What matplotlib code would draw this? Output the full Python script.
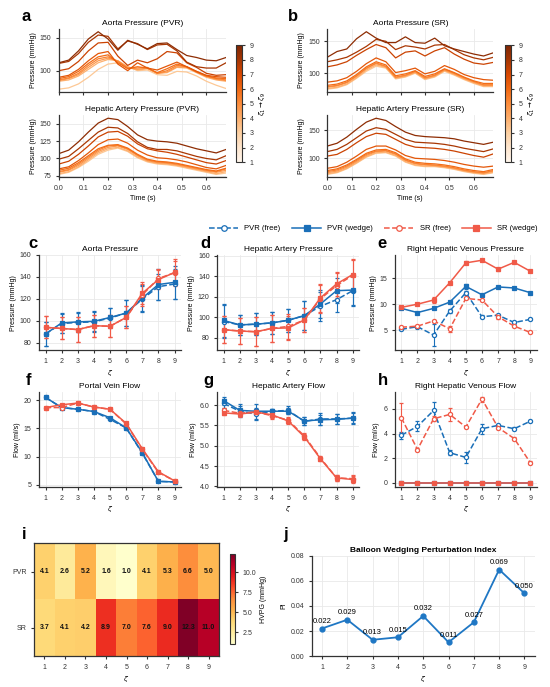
import numpy as np
import matplotlib
matplotlib.use("Agg")
import matplotlib.pyplot as plt
from matplotlib.cm import ScalarMappable
from matplotlib.colors import Normalize
from matplotlib.lines import Line2D

plt.rcParams['font.family'] = ['Liberation Sans', 'DejaVu Sans']
plt.rcParams['font.size'] = 5.5
plt.rcParams['axes.linewidth'] = 0.9
plt.rcParams['axes.edgecolor'] = '#333333'
plt.rcParams['xtick.labelsize'] = 5
plt.rcParams['ytick.labelsize'] = 5
plt.rcParams['xtick.major.size'] = 2
plt.rcParams['ytick.major.size'] = 2
plt.rcParams['xtick.major.width'] = 0.8
plt.rcParams['ytick.major.width'] = 0.8
plt.rcParams['xtick.color'] = '#333333'
plt.rcParams['ytick.color'] = '#333333'
plt.rcParams['axes.labelsize'] = 5
plt.rcParams['axes.titlesize'] = 6

# ---- waveforms (panels a, b) ----
time = [0.00, 0.04, 0.08, 0.12, 0.16, 0.20, 0.24, 0.28, 0.32, 0.36,
        0.40, 0.44, 0.48, 0.52, 0.56, 0.60, 0.64, 0.68]

# zeta 1 .. 9
aorta_pvr = [
    [72, 74, 80, 90, 102, 110, 112, 106, 100, 101, 94, 93, 99, 98, 92, 84, 78, 73],
    [84, 86, 92, 102, 112, 117, 115, 106, 101, 103, 96, 97, 105, 104, 97, 90, 86, 84],
    [85, 88, 94, 105, 115, 119, 115, 105, 102, 104, 96, 98, 106, 105, 98, 91, 87, 85],
    [86, 89, 96, 108, 118, 121, 114, 104, 104, 105, 96, 100, 108, 106, 99, 92, 88, 86],
    [88, 91, 99, 111, 121, 124, 112, 103, 106, 104, 97, 103, 110, 106, 98, 92, 89, 88],
    [90, 93, 102, 115, 126, 129, 110, 100, 112, 104, 101, 107, 113, 106, 99, 93, 91, 90],
    [100, 103, 114, 130, 142, 143, 122, 108, 116, 112, 118, 129, 127, 112, 105, 96, 93, 94],
    [111, 114, 126, 143, 154, 152, 133, 145, 141, 132, 139, 140, 130, 113, 106, 104, 104, 112],
    [112, 116, 130, 148, 159, 148, 131, 146, 140, 133, 141, 142, 132, 123, 120, 116, 115, 120],
]
hepatic_pvr = [
    [77, 80, 87, 96, 106, 112, 115, 110, 101, 95, 92, 91, 89, 86, 83, 80, 77, 79],
    [78, 81, 88, 98, 108, 114, 116, 111, 102, 96, 93, 92, 90, 87, 84, 81, 78, 81],
    [80, 83, 90, 100, 110, 116, 118, 113, 104, 97, 94, 93, 91, 88, 85, 82, 80, 83],
    [81, 84, 92, 102, 112, 118, 119, 114, 105, 98, 95, 94, 92, 89, 86, 83, 81, 85],
    [83, 86, 94, 104, 114, 119, 120, 115, 106, 99, 96, 95, 93, 90, 87, 84, 82, 86],
    [85, 88, 97, 108, 120, 127, 128, 122, 112, 105, 101, 100, 98, 95, 91, 87, 85, 90],
    [92, 96, 106, 118, 131, 138, 139, 132, 121, 114, 111, 109, 106, 102, 98, 94, 92, 97],
    [99, 103, 114, 126, 138, 145, 144, 136, 124, 116, 113, 113, 111, 107, 103, 100, 98, 104],
    [107, 112, 124, 138, 151, 158, 156, 146, 134, 127, 125, 124, 122, 118, 114, 111, 108, 113],
]
aorta_sr = [
    [75, 77, 82, 92, 103, 111, 108, 91, 94, 100, 90, 94, 103, 97, 90, 84, 79, 79],
    [76, 78, 83, 93, 105, 113, 109, 92, 95, 101, 91, 95, 104, 98, 91, 85, 80, 80],
    [78, 80, 85, 95, 107, 115, 110, 93, 96, 102, 92, 96, 105, 99, 92, 86, 81, 81],
    [79, 81, 86, 96, 108, 116, 111, 94, 97, 103, 93, 97, 106, 100, 93, 87, 82, 82],
    [81, 83, 88, 98, 110, 118, 113, 96, 99, 104, 95, 99, 107, 101, 94, 88, 84, 84],
    [86, 88, 93, 103, 115, 124, 118, 101, 104, 108, 99, 103, 112, 106, 98, 93, 90, 89],
    [110, 113, 118, 128, 137, 145, 140, 124, 133, 135, 127, 135, 140, 130, 122, 116, 114, 117],
    [118, 121, 125, 133, 142, 153, 150, 137, 143, 141, 138, 144, 145, 137, 129, 124, 121, 125],
    [125, 134, 138, 154, 165, 155, 148, 148, 157, 148, 147, 155, 143, 138, 134, 130, 127, 132],
]
hepatic_sr = [
    [71, 74, 81, 91, 102, 109, 110, 104, 93, 87, 85, 85, 83, 80, 76, 73, 71, 74],
    [72, 75, 82, 92, 103, 110, 111, 105, 94, 88, 86, 86, 84, 81, 77, 74, 72, 75],
    [74, 77, 84, 94, 105, 112, 113, 107, 96, 90, 88, 87, 85, 82, 78, 75, 73, 77],
    [76, 79, 86, 96, 107, 113, 114, 108, 97, 91, 89, 88, 86, 83, 79, 76, 74, 78],
    [78, 81, 88, 98, 109, 115, 116, 110, 99, 93, 91, 90, 88, 85, 81, 78, 76, 80],
    [82, 85, 93, 104, 116, 122, 122, 115, 105, 100, 99, 98, 96, 93, 89, 86, 84, 86],
    [104, 107, 116, 128, 139, 145, 143, 134, 125, 120, 119, 118, 116, 113, 109, 105, 102, 108],
    [112, 116, 125, 137, 149, 155, 152, 143, 134, 129, 128, 127, 125, 122, 118, 115, 112, 117],
    [122, 127, 138, 152, 165, 172, 168, 157, 147, 141, 139, 138, 137, 135, 131, 128, 125, 129],
]

# ---- per-zeta comparison (panels c-h) ----
zeta = [1, 2, 3, 4, 5, 6, 7, 8, 9]
series_names = ['PVR (free)', 'PVR (wedge)', 'SR (free)', 'SR (wedge)']

aorta_p = [
    [88, 97.5, 98.5, 99, 102.5, 107, 119.7, 131, 133.5],
    [88, 98, 99, 99.5, 103, 107, 120.6, 133, 135],
    [94, 93, 92, 95.5, 95, 103, 123.5, 138.5, 143.7],
    [94, 93, 92, 95.5, 95, 103, 125, 137.5, 144],
]
aorta_p_err = [
    [11, 9, 9, 9, 9, 12, 12, 12, 14],
    [11, 9, 9, 9, 9, 12, 12, 14, 15],
    [10, 10, 11, 10, 10, 10, 10, 9, 11],
    [10, 10, 11, 10, 10, 10, 10, 9, 12],
]
hepatic_p = [
    [95.8, 92.5, 93.2, 94.5, 97, 101.6, 110.7, 117.2, 126],
    [96.8, 92.5, 93.2, 94.5, 97, 101.6, 113, 126, 126.6],
    [87.8, 86.5, 85.8, 89.1, 91, 97.3, 118, 131, 141],
    [87.8, 86.5, 85.8, 89.1, 89.5, 97.3, 119, 132.6, 141.8],
]
hepatic_p_err = [
    [16, 10, 11, 11, 11, 14, 14, 12, 15],
    [16, 10, 11, 11, 11, 14, 14, 12, 15],
    [13, 13, 14, 13, 12, 12, 14, 12, 15],
    [13, 13, 14, 13, 12, 12, 14, 12, 15],
]
rhv_p = [
    [5.2, 5.7, 4.1, 8.7, 12.2, 7.6, 7.9, 6.5, 7.1],
    [9.2, 8.4, 9.2, 10.4, 13.4, 11.8, 13.3, 13.1, 12.2],
    [5.6, 5.8, 6.8, 5.3, 11.1, 10.8, 7.6, 5.8, 4.6],
    [9.4, 10.0, 10.8, 14.1, 17.9, 18.4, 16.7, 18.0, 16.3],
]
rhv_p_err = [
    [0.2, 0.2, 2.1, 0.3, 0.4, 0.3, 0.2, 0.2, 0.2],
    [0.2, 0.2, 0.2, 0.2, 0.4, 0.2, 0.2, 0.2, 0.2],
    [0.2, 0.2, 0.2, 0.6, 0.2, 0.2, 0.4, 0.2, 0.2],
    [0.2, 0.2, 0.5, 0.2, 0.3, 0.2, 0.3, 0.2, 0.2],
]
portal_q = [
    [20.5, 18.7, 18.4, 18.0, 16.6, 15.1, 10.6, 5.6, 5.5],
    [20.5, 18.7, 18.4, 18.0, 16.9, 15.1, 10.7, 5.6, 5.5],
    [18.7, 18.7, 19.5, 18.8, 18.4, 15.8, 11.3, 7.2, 5.7],
    [18.7, 19.2, 19.5, 18.8, 18.4, 15.9, 11.4, 7.3, 5.7],
]
portal_q_err = [
    [0.15] * 9, [0.15] * 9, [0.15] * 9, [0.15] * 9,
]
hepatic_q = [
    [6.04, 5.85, 5.78, 5.85, 5.87, 5.60, 5.66, 5.66, 5.68],
    [6.11, 5.87, 5.85, 5.85, 5.85, 5.61, 5.64, 5.65, 5.68],
    [5.87, 5.80, 5.83, 5.74, 5.63, 5.24, 4.70, 4.21, 4.19],
    [5.81, 5.78, 5.83, 5.76, 5.61, 5.22, 4.68, 4.21, 4.17],
]
hepatic_q_err = [
    [0.10, 0.12, 0.15, 0.06, 0.10, 0.10, 0.15, 0.12, 0.12],
    [0.10, 0.15, 0.18, 0.06, 0.08, 0.10, 0.12, 0.12, 0.15],
    [0.05, 0.06, 0.06, 0.07, 0.07, 0.07, 0.05, 0.08, 0.08],
    [0.05, 0.06, 0.06, 0.07, 0.07, 0.07, 0.05, 0.08, 0.08],
]
rhv_q = [
    [3.86, 4.58, 5.87, 2.44, 2.06, 4.39, 4.66, 4.39, 5.0],
    [0, 0, 0, 0, 0, 0, 0, 0, 0],
    [5.28, 2.70, 5.20, 5.55, 4.53, 6.80, 4.48, 3.59, 1.63],
    [0, 0, 0, 0, 0, 0, 0, 0, 0],
]
rhv_q_err = [
    [0.3, 0.4, 0.7, 0.2, 0.45, 0.4, 0.1, 0.1, 0.1],
    [0] * 9,
    [1.2, 0.15, 0.2, 0.55, 0.1, 0.2, 0.1, 0.1, 0.1],
    [0] * 9,
]

# ---- HVPG heatmap (panel i) and perturbation index (panel j) ----
hvpg_rows = ['PVR', 'SR']
hvpg = [
    [4.1, 2.6, 5.2, 1.6, 1.0, 4.1, 5.3, 6.6, 5.0],
    [3.7, 4.1, 4.2, 8.9, 7.0, 7.6, 9.0, 12.3, 11.0],
]
pi_vals = [0.022, 0.029, 0.013, 0.015, 0.032, 0.011, 0.027, 0.069, 0.050]

BLUE = '#1a6fb8'
RED = '#f05a48'
GRID = '#e9e9e9'

wave_colors = plt.get_cmap('Oranges')(np.linspace(0.28, 0.95, 9))
series_style = [
    (BLUE, '--', 'o', 'white'),
    (BLUE, '-', 's', BLUE),
    (RED, '--', 'o', 'white'),
    (RED, '-', 's', RED),
]


def tidy(ax):
    for s in ['top', 'right']:
        ax.spines[s].set_visible(False)
    ax.grid(color=GRID, lw=0.6)
    ax.set_axisbelow(True)


def draw_waves(ax, curves, title):
    for i, y in enumerate(curves):
        ax.plot(time, y, color=wave_colors[i], lw=0.9)
    ax.set_xlim(0, 0.68)
    ax.set_xticks([0.0, 0.1, 0.2, 0.3, 0.4, 0.5, 0.6])
    ax.set_title(title, pad=3)
    ax.set_ylabel('Pressure (mmHg)', labelpad=2)
    tidy(ax)


def draw_compare(ax, data, errs, title, ylabel):
    for (c, ls, m, mfc), y, e in zip(series_style, data, errs):
        ax.errorbar(zeta, y, yerr=e, color=c, ls=ls, marker=m, mfc=mfc,
                    mec=c, mew=0.9, ms=3, lw=1.1, elinewidth=0.8,
                    capsize=1.6, capthick=0.8)
    ax.set_xticks(zeta)
    ax.set_title(title, pad=3)
    ax.set_ylabel(ylabel, labelpad=2)
    ax.set_xlabel(r'$\zeta$', labelpad=2)
    tidy(ax)


fig = plt.figure(figsize=(5.5, 6.87), dpi=100)

a_top = fig.add_axes([0.107, 0.866, 0.304, 0.092])
a_bot = fig.add_axes([0.107, 0.742, 0.304, 0.090])
b_top = fig.add_axes([0.595, 0.866, 0.302, 0.092])
b_bot = fig.add_axes([0.595, 0.742, 0.302, 0.090])

draw_waves(a_top, aorta_pvr, 'Aorta Pressure (PVR)')
draw_waves(a_bot, hepatic_pvr, 'Hepatic Artery Pressure (PVR)')
draw_waves(b_top, aorta_sr, 'Aorta Pressure (SR)')
draw_waves(b_bot, hepatic_sr, 'Hepatic Artery Pressure (SR)')
for ax in [a_top, b_top]:
    ax.tick_params(labelbottom=False)
    ax.set_yticks([100, 150])
a_bot.set_yticks([75, 100, 125, 150])
b_bot.set_yticks([100, 150])
a_bot.set_xlabel('Time (s)', labelpad=2)
b_bot.set_xlabel('Time (s)', labelpad=2)

for left in [0.429, 0.918]:
    cax = fig.add_axes([left, 0.764, 0.011, 0.170])
    cb = fig.colorbar(ScalarMappable(norm=Normalize(1, 9), cmap='Oranges'),
                      cax=cax, ticks=zeta)
    cb.set_label(r'$\zeta_1 \rightarrow \zeta_9$', fontsize=5, labelpad=3)
    cb.outline.set_linewidth(0.8)
    cax.tick_params(labelsize=5, length=2)

ax_c = fig.add_axes([0.071, 0.490, 0.258, 0.139])
ax_d = fig.add_axes([0.395, 0.490, 0.258, 0.139])
ax_e = fig.add_axes([0.718, 0.490, 0.258, 0.139])
ax_f = fig.add_axes([0.071, 0.291, 0.258, 0.138])
ax_g = fig.add_axes([0.395, 0.291, 0.258, 0.138])
ax_h = fig.add_axes([0.718, 0.291, 0.258, 0.138])

draw_compare(ax_c, aorta_p, aorta_p_err, 'Aorta Pressure', 'Pressure (mmHg)')
draw_compare(ax_d, hepatic_p, hepatic_p_err, 'Hepatic Artery Pressure', 'Pressure (mmHg)')
draw_compare(ax_e, rhv_p, rhv_p_err, 'Right Hepatic Venous Pressure', 'Pressure (mmHg)')
draw_compare(ax_f, portal_q, portal_q_err, 'Portal Vein Flow', 'Flow (ml/s)')
draw_compare(ax_g, hepatic_q, hepatic_q_err, 'Hepatic Artery Flow', 'Flow (ml/s)')
draw_compare(ax_h, rhv_q, rhv_q_err, 'Right Hepatic Venous Flow', 'Flow (ml/s)')
ax_c.set_yticks([80, 100, 120, 140, 160])
ax_d.set_yticks([80, 100, 120, 140, 160])
ax_e.set_yticks([5, 10, 15])
ax_f.set_yticks([5, 10, 15, 20])
ax_g.set_yticks([4.0, 4.5, 5.0, 5.5, 6.0])
ax_h.set_yticks([0, 2, 4, 6])

handles = [Line2D([], [], color=c, ls=ls, marker=m, mfc=mfc, mec=c, mew=0.9,
                  ms=4, lw=1.1) for c, ls, m, mfc in series_style]
fig.legend(handles, series_names, loc='center', bbox_to_anchor=(0.679, 0.667),
           ncol=4, frameon=False, fontsize=5.5, handlelength=3.8,
           columnspacing=1.5, handletextpad=0.8)

# heatmap
ax_i = fig.add_axes([0.062, 0.045, 0.336, 0.164])
im = ax_i.imshow(hvpg, cmap='YlOrRd', vmin=1.0, vmax=12.3, aspect='auto')
for r in range(len(hvpg_rows)):
    for c in range(len(zeta)):
        ax_i.text(c, r, f'{hvpg[r][c]:.1f}', ha='center', va='center',
                  fontsize=5, fontweight='bold', color='#111111')
ax_i.set_xticks(range(len(zeta)), zeta)
ax_i.set_yticks(range(len(hvpg_rows)), hvpg_rows)
ax_i.set_xlabel(r'$\zeta$', labelpad=2)
cax_i = fig.add_axes([0.418, 0.0626, 0.009, 0.131])
cb_i = fig.colorbar(im, cax=cax_i, ticks=[2.5, 5.0, 7.5, 10.0])
cb_i.set_label('HVPG (mmHg)', fontsize=5, labelpad=3)
cb_i.outline.set_linewidth(0.8)
cax_i.tick_params(labelsize=5, length=2)

# perturbation index
ax_j = fig.add_axes([0.567, 0.045, 0.405, 0.146])
ax_j.plot(zeta, pi_vals, color='#1f77c4', marker='o', ms=3.5, lw=1.3)
for x, v in zip(zeta, pi_vals):
    ax_j.annotate(f'{v:.3f}', (x, v), textcoords='offset points', xytext=(0, 4),
                  ha='center', fontsize=5.5)
ax_j.set_ylim(0, 0.08)
ax_j.set_yticks([0.00, 0.02, 0.04, 0.06, 0.08])
ax_j.set_xticks(zeta)
ax_j.set_title('Balloon Wedging Perturbation Index', fontweight='bold', pad=3)
ax_j.set_ylabel('PI', labelpad=2)
ax_j.set_xlabel(r'$\zeta$', labelpad=2)
tidy(ax_j)

labels = [('a', 0.040, 0.970), ('b', 0.524, 0.970),
          ('c', 0.052, 0.639), ('d', 0.364, 0.639), ('e', 0.687, 0.639),
          ('f', 0.047, 0.440), ('g', 0.369, 0.440), ('h', 0.687, 0.440),
          ('i', 0.040, 0.215), ('j', 0.515, 0.215)]
for t, x, y in labels:
    fig.text(x, y, t, fontsize=12, fontweight='bold', va='baseline')

fig.savefig('out.png', dpi=100)
